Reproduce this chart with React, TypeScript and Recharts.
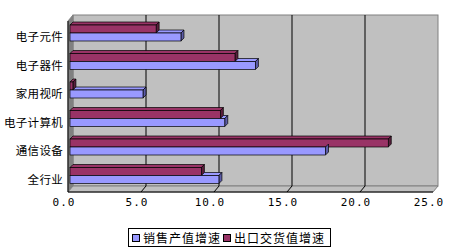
import React from "react"
import { BarChart, Bar, XAxis, YAxis, CartesianGrid } from "recharts"

const categories = ["电子元件", "电子器件", "家用视听", "电子计算机", "通信设备", "全行业"]
const salesGrowth = [7.6, 12.7, 5.0, 10.6, 17.5, 10.2]
const exportGrowth = [5.9, 11.3, 0.2, 10.3, 21.8, 9.0]
const xTicks = [0, 5, 10, 15, 20, 25]
const seriesNames = ["销售产值增速", "出口交货值增速"]

const data = categories.map((name, i) => ({
  name,
  sales: salesGrowth[i],
  export: exportGrowth[i],
}))

const chartW = 460
const chartH = 249
const margin = { top: 19, right: 25, bottom: 39, left: 0 }
const yAxisW = 70
const xAxisH = 20
// plot area (mid depth plane)
const plotX = margin.left + yAxisW
const plotY = margin.top
const plotW = chartW - margin.right - plotX
const plotH = chartH - margin.bottom - xAxisH - plotY
// 3d offsets
const back = { dx: 3, dy: -4 }
const front = { dx: -2, dy: 2 }
const depth = 3

function Walls() {
  const bx0 = plotX + back.dx
  const bx1 = plotX + plotW + back.dx
  const by0 = plotY + back.dy
  const by1 = plotY + plotH + back.dy
  const fx0 = plotX + front.dx
  const fx1 = plotX + plotW + front.dx
  const fy0 = plotY + front.dy
  const fy1 = plotY + plotH + front.dy
  return (
    <g>
      <rect x={bx0} y={by0} width={bx1 - bx0} height={by1 - by0} fill="#c0c0c0" stroke="#808080" />
      <polygon points={`${fx0},${fy0} ${bx0},${by0} ${bx0},${by1} ${fx0},${fy1}`} fill="#808080" stroke="#808080" />
      <polygon points={`${bx0},${by1} ${bx1},${by1} ${fx1},${fy1} ${fx0},${fy1}`} fill="#c0c0c0" stroke="#808080" />
      <line x1={fx0} y1={fy0} x2={fx0} y2={fy1} stroke="#000000" />
      <line x1={fx0} y1={fy1} x2={fx1} y2={fy1} stroke="#000000" />
    </g>
  )
}

// grid lines sit on the back wall; the first one also paints the walls
function GridLine(props: any) {
  const { x1, y1, y2 } = props
  if (x1 <= plotX + 1) return <Walls />
  if (x1 >= plotX + plotW - 1) return <g />
  const bx = x1 + back.dx
  return (
    <g>
      <line x1={bx} y1={y1 + back.dy} x2={bx} y2={y2 + back.dy} stroke="#000000" />
      <line x1={bx} y1={y2 + back.dy} x2={x1 + front.dx} y2={y2 + front.dy} stroke="#000000" />
    </g>
  )
}

function Box3D(props: any) {
  const { x, y, width, height, color, dark, clipFrom } = props
  if (width == null || height == null) return <g />
  const w = Math.max(width, 0.5)
  const tx = clipFrom != null ? Math.max(x, clipFrom) : x
  return (
    <g>
      {tx < x + w && (
        <polygon
          points={`${tx},${y} ${tx + depth},${y - depth} ${x + w + depth},${y - depth} ${x + w},${y}`}
          fill={color}
          stroke="#000000"
          strokeWidth={0.7}
        />
      )}
      <polygon
        points={`${x + w},${y} ${x + w + depth},${y - depth} ${x + w + depth},${y + height - depth} ${x + w},${y + height}`}
        fill={dark}
        stroke="#000000"
        strokeWidth={0.7}
      />
      <rect x={x} y={y} width={w} height={height} fill={color} stroke="#000000" strokeWidth={0.7} />
    </g>
  )
}

function SalesShape(props: any) {
  const { x, y, width, height, payload } = props
  const ppu = width / payload.sales
  const exportEnd = x + payload.export * ppu
  return <Box3D x={x} y={y} width={width} height={height} color="#9999ff" dark="#5c5ca8" clipFrom={exportEnd} />
}

function ExportShape(props: any) {
  const { x, y, width, height } = props
  return <Box3D x={x} y={y} width={width} height={height} color="#993366" dark="#5a1e3c" />
}

function XTick(props: any) {
  const { x, payload } = props
  return (
    <text x={x - 6} y={206} textAnchor="middle" fontFamily="DejaVu Sans Mono" fontSize={11} letterSpacing={1} fill="#000000">
      {payload.value.toFixed(1)}
    </text>
  )
}

function YTick(props: any) {
  const { y, payload } = props
  return (
    <text x={63} y={y + 8} textAnchor="end" fontFamily="Noto Sans CJK SC" fontSize={11.5} letterSpacing={0.3} fill="#000000">
      {payload.value}
    </text>
  )
}

function LegendBox() {
  const items = [
    { name: seriesNames[0], color: "#9999ff" },
    { name: seriesNames[1], color: "#993366" },
  ]
  return (
    <div style={{ position: "absolute", left: 128, top: 228, border: "1px solid #000", display: "inline-flex", alignItems: "center", padding: "0 3px", height: 17, background: "#fff" }}>
      {items.map((it) => (
        <span key={it.name} style={{ display: "inline-flex", alignItems: "center", marginRight: 2 }}>
          <span style={{ width: 6, height: 6, border: "1px solid #000", background: it.color, marginRight: 3, display: "inline-block" }} />
          <span style={{ fontFamily: "Noto Sans CJK SC", fontSize: 12, letterSpacing: 1, lineHeight: "17px" }}>{it.name}</span>
        </span>
      ))}
    </div>
  )
}

export default function App() {
  return (
    <div style={{ position: "absolute", left: 0, top: 0, width: chartW, height: chartH }}>
      <BarChart width={chartW} height={chartH} data={data} layout="vertical" margin={margin} barSize={8} barGap={0}>
        <CartesianGrid horizontal={false} vertical={GridLine} fill="#c0c0c0" />
        <XAxis type="number" domain={[0, 25]} ticks={xTicks} axisLine={false} tickLine={false} tick={XTick} height={xAxisH} />
        <YAxis type="category" dataKey="name" width={yAxisW} axisLine={false} tickLine={false} tick={YTick} interval={0} />
        <Bar dataKey="export" name={seriesNames[1]} shape={ExportShape} isAnimationActive={false} />
        <Bar dataKey="sales" name={seriesNames[0]} shape={SalesShape} isAnimationActive={false} />
      </BarChart>
      <LegendBox />
    </div>
  )
}
